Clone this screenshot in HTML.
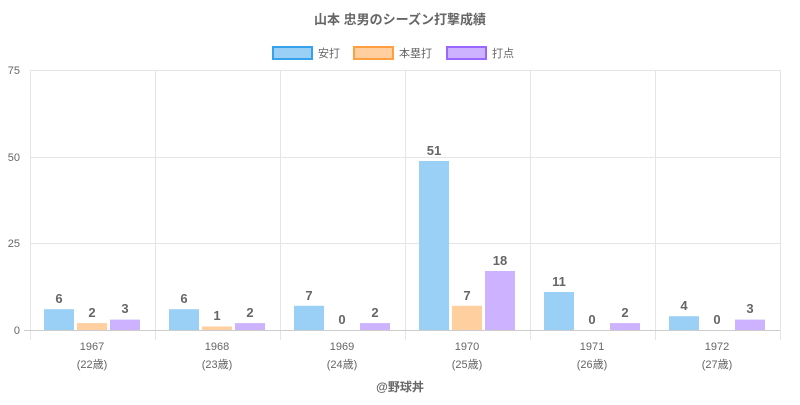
<!DOCTYPE html>
<html><head><meta charset="utf-8"><style>
body{margin:0;background:#fff;}
svg text{font-family:"Liberation Sans","Noto Sans CJK JP",sans-serif;}
</style></head><body>
<svg width="800" height="400" xmlns="http://www.w3.org/2000/svg">
<text x="400" y="24" text-anchor="middle" font-size="13" font-weight="bold" fill="#666">山本 忠男のシーズン打撃成績</text>
<rect x="273" y="47" width="39" height="12" fill="#9ad0f5" stroke="#36a2eb" stroke-width="2"/>
<text x="318" y="57" font-size="11" fill="#666">安打</text>
<rect x="354" y="47" width="39" height="12" fill="#ffcf9f" stroke="#ff9f40" stroke-width="2"/>
<text x="399" y="57" font-size="11" fill="#666">本塁打</text>
<rect x="447" y="47" width="39" height="12" fill="#ccb2ff" stroke="#9966ff" stroke-width="2"/>
<text x="492" y="57" font-size="11" fill="#666">打点</text>
<g stroke="#e5e5e5" stroke-width="1">
<line x1="30" y1="70.5" x2="780" y2="70.5"/><line x1="30" y1="157.5" x2="780" y2="157.5"/><line x1="30" y1="243.5" x2="780" y2="243.5"/>
<line x1="30.5" y1="70" x2="30.5" y2="340"/><line x1="155.5" y1="70" x2="155.5" y2="340"/><line x1="280.5" y1="70" x2="280.5" y2="340"/><line x1="405.5" y1="70" x2="405.5" y2="340"/><line x1="530.5" y1="70" x2="530.5" y2="340"/><line x1="655.5" y1="70" x2="655.5" y2="340"/><line x1="780.5" y1="70" x2="780.5" y2="340"/>
</g>
<line x1="24" y1="330.5" x2="780" y2="330.5" stroke="#ccc"/>
<g font-size="11" fill="#666" text-anchor="end">
<text x="20" y="74">75</text><text x="20" y="161">50</text><text x="20" y="247">25</text><text x="20" y="334">0</text>
</g>
<g>
<rect x="44" y="309.2" width="30" height="20.8" fill="#9ad0f5"/>
<rect x="77" y="323.1" width="30" height="6.9" fill="#ffcf9f"/>
<rect x="110" y="319.6" width="30" height="10.4" fill="#ccb2ff"/>
<rect x="169" y="309.2" width="30" height="20.8" fill="#9ad0f5"/>
<rect x="202" y="326.5" width="30" height="3.5" fill="#ffcf9f"/>
<rect x="235" y="323.1" width="30" height="6.9" fill="#ccb2ff"/>
<rect x="294" y="305.8" width="30" height="24.2" fill="#9ad0f5"/>
<rect x="360" y="323.1" width="30" height="6.9" fill="#ccb2ff"/>
<rect x="419" y="161" width="30" height="169" fill="#9ad0f5"/>
<rect x="452" y="305.8" width="30" height="24.2" fill="#ffcf9f"/>
<rect x="485" y="271" width="30" height="59" fill="#ccb2ff"/>
<rect x="544" y="292" width="30" height="38" fill="#9ad0f5"/>
<rect x="610" y="323.1" width="30" height="6.9" fill="#ccb2ff"/>
<rect x="669" y="316.2" width="30" height="13.8" fill="#9ad0f5"/>
<rect x="735" y="319.6" width="30" height="10.4" fill="#ccb2ff"/>
</g>
<g font-size="13" font-weight="bold" fill="#666" text-anchor="middle">
<text x="59" y="303">6</text><text x="92" y="317">2</text><text x="125" y="313">3</text>
<text x="184" y="303">6</text><text x="217" y="320">1</text><text x="250" y="317">2</text>
<text x="309" y="300">7</text><text x="342" y="324">0</text><text x="375" y="317">2</text>
<text x="434" y="155">51</text><text x="467" y="300">7</text><text x="500" y="265">18</text>
<text x="559" y="286">11</text><text x="592" y="324">0</text><text x="625" y="317">2</text>
<text x="684" y="310">4</text><text x="717" y="324">0</text><text x="750" y="313">3</text>
</g>
<g font-size="11" fill="#666" text-anchor="middle">
<text x="92" y="350">1967</text><text x="92" y="368">(22歳)</text>
<text x="217" y="350">1968</text><text x="217" y="368">(23歳)</text>
<text x="342" y="350">1969</text><text x="342" y="368">(24歳)</text>
<text x="467" y="350">1970</text><text x="467" y="368">(25歳)</text>
<text x="592" y="350">1971</text><text x="592" y="368">(26歳)</text>
<text x="717" y="350">1972</text><text x="717" y="368">(27歳)</text>
</g>
<text x="400" y="391" text-anchor="middle" font-size="12" font-weight="bold" fill="#666">@野球丼</text>
</svg>
</body></html>
